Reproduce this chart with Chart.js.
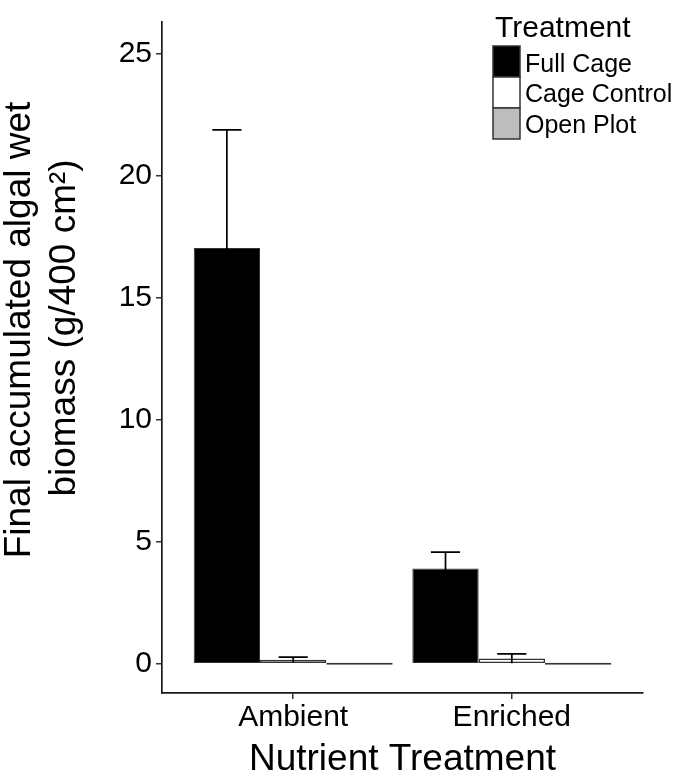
<!DOCTYPE html>
<html>
<head>
<meta charset="utf-8">
<script src="https://cdn.jsdelivr.net/npm/chart.js@4.4.1/dist/chart.umd.min.js"></script>
<style>
  html, body { margin: 0; padding: 0; background: #fff; }
  #chart { display: block; }
</style>
</head>
<body>
<canvas id="chart" width="675" height="779"></canvas>
<script>
// ---- data ----
const categories = ['Ambient', 'Enriched'];
const categoryPos = [1, 2];
const treatments = ['Full Cage', 'Cage Control', 'Open Plot'];
const fullCageMean = [17.04, 3.90];
const fullCageSe = [4.84, 0.67];
const cageControlMean = [0.16, 0.21];
const cageControlSe = [0.11, 0.19];
const openPlotMean = [0, 0];
const openPlotSe = [0, 0];
const yTicks = [0, 5, 10, 15, 20, 25];

const FONT = "'Liberation Sans', Arial, Helvetica, sans-serif";
const fills = ['#000000', '#ffffff', '#bdbdbd'];
const means = [fullCageMean, cageControlMean, openPlotMean];
const errors = [fullCageSe, cageControlSe, openPlotSe];

const datasets = treatments.map((name, d) => ({
  label: name,
  data: categoryPos.map((x, i) => ({ x: x, y: means[d][i] })),
  se: errors[d],
  backgroundColor: fills[d],
  borderColor: '#333333',
  borderWidth: d === 0 ? 1 : 1.5,
  borderSkipped: false,
  minBarLength: 2,
  categoryPercentage: 0.91,
  barPercentage: 1.0
}));

// error bars (mean +/- se), drawn on top of the bars
const errorBars = {
  id: 'errorBars',
  afterDatasetsDraw(chart) {
    const ctx = chart.ctx;
    const y = chart.scales.y;
    ctx.save();
    ctx.strokeStyle = '#000';
    ctx.lineWidth = 1.7;
    chart.data.datasets.forEach((ds, d) => {
      const meta = chart.getDatasetMeta(d);
      meta.data.forEach((bar, i) => {
        const se = ds.se[i];
        if (!se) return;
        const m = ds.data[i].y;
        const top = y.getPixelForValue(m + se);
        const low = y.getPixelForValue(Math.max(m - se, 0));
        const half = bar.width * 0.22;
        ctx.beginPath();
        ctx.moveTo(bar.x, low);
        ctx.lineTo(bar.x, top);
        ctx.moveTo(bar.x - half, top);
        ctx.lineTo(bar.x + half, top);
        ctx.stroke();
      });
    });
    ctx.restore();
  }
};

// ggplot-style legend and two-line y title
const extras = {
  id: 'extras',
  afterDraw(chart) {
    const ctx = chart.ctx;
    ctx.save();
    ctx.fillStyle = '#000';
    ctx.textAlign = 'left';
    ctx.textBaseline = 'alphabetic';
    ctx.font = '30px ' + FONT;
    ctx.fillText('Treatment', 495, 37);
    const baselines = [72, 102, 133];
    treatments.forEach((name, d) => {
      const top = 46 + d * 31;
      ctx.fillStyle = fills[d];
      ctx.fillRect(493, top, 27, 31);
      ctx.strokeStyle = '#333';
      ctx.lineWidth = 1.5;
      ctx.strokeRect(493, top, 27, 31);
      ctx.fillStyle = '#000';
      ctx.font = '25px ' + FONT;
      ctx.fillText(name, 525, baselines[d]);
    });

    ctx.font = '37px ' + FONT;
    ctx.textAlign = 'center';
    ctx.save();
    ctx.translate(30, 330);
    ctx.rotate(-Math.PI / 2);
    ctx.fillText('Final accumulated algal wet', 0, 0);
    ctx.restore();
    ctx.save();
    ctx.translate(75, 328);
    ctx.rotate(-Math.PI / 2);
    ctx.fillText('biomass (g/400 cm²)', 0, 0);
    ctx.restore();
    ctx.restore();
  }
};

new Chart(document.getElementById('chart'), {
  type: 'bar',
  data: { datasets: datasets },
  plugins: [errorBars, extras],
  options: {
    responsive: false,
    animation: false,
    devicePixelRatio: 1,
    layout: { padding: { left: 0, top: 2, right: 32, bottom: 0 } },
    plugins: {
      legend: { display: false },
      tooltip: { enabled: false }
    },
    scales: {
      x: {
        type: 'linear',
        offset: false,
        min: 0.4,
        max: 2.6,
        afterBuildTicks: (scale) => { scale.ticks = categoryPos.map(v => ({ value: v })); },
        afterFit: (scale) => { scale.height = 86; },
        ticks: {
          color: '#000',
          font: { family: FONT, size: 30, lineHeight: 1.2 },
          padding: 1,
          maxRotation: 0,
          autoSkip: false,
          callback: (v) => categories[categoryPos.indexOf(v)] || ''
        },
        grid: { offset: false, drawOnChartArea: false, drawTicks: true, tickLength: 6, color: '#333', lineWidth: 1.5 },
        border: { display: true, color: '#1a1a1a', width: 1.7 },
        title: {
          display: true,
          text: 'Nutrient Treatment',
          color: '#000',
          font: { family: FONT, size: 37, lineHeight: 1 },
          padding: { top: 0, bottom: 1 }
        }
      },
      y: {
        min: -1.2,
        max: 26.3,
        afterBuildTicks: (scale) => { scale.ticks = yTicks.map(v => ({ value: v })); },
        afterFit: (scale) => { scale.width = 162; },
        ticks: {
          color: '#000',
          font: { family: FONT, size: 30 },
          padding: 4
        },
        grid: { drawOnChartArea: false, drawTicks: true, tickLength: 6, color: '#333', lineWidth: 1.5 },
        border: { display: true, color: '#1a1a1a', width: 1.7 }
      }
    }
  }
});
</script>
</body>
</html>
